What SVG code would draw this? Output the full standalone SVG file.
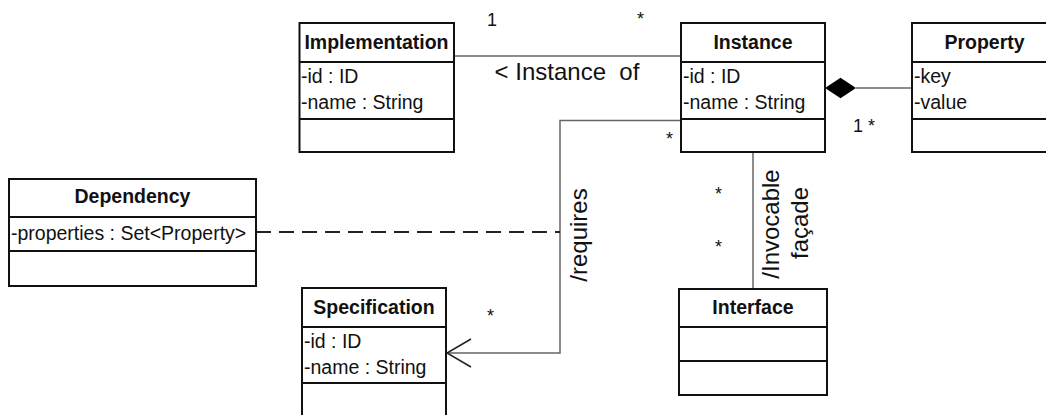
<svg xmlns="http://www.w3.org/2000/svg" width="1046" height="415" viewBox="0 0 1046 415">
<style>
.box{fill:#fff;stroke:#111;stroke-width:2}
.sep{stroke:#111;stroke-width:2}
.hdr{font-family:"Liberation Sans",Arial,sans-serif;font-weight:bold;font-size:19.5px;text-anchor:middle;fill:#111}
.att{font-family:"Liberation Sans",Arial,sans-serif;font-size:19.5px;fill:#111}
.lbl{font-family:"Liberation Sans",Arial,sans-serif;font-size:24px;fill:#111}
.mul{font-family:"Liberation Sans",Arial,sans-serif;font-size:18px;fill:#111}
.con{fill:none;stroke:#666;stroke-width:1.5}
</style>
<rect width="1046" height="415" fill="#fff"/>
<g id="connectors">
<line class="con" x1="454" y1="56" x2="681" y2="56"/>
<polyline class="con" points="856,88 912,88"/>
<polygon points="825,88 840.5,77.7 856,88 840.5,98.3" fill="#000"/>
<polyline class="con" points="681,120.5 560,120.5 560,353 446,353"/>
<polyline fill="none" stroke="#222" stroke-width="1.5" points="471,339 447,353 471,367"/>
<line x1="256" y1="232" x2="560" y2="232" stroke="#222" stroke-width="2" stroke-dasharray="15,8"/>
<line class="con" x1="753" y1="152" x2="753" y2="289"/>
<text class="mul" x="487" y="26">1</text>
<text class="mul" x="637" y="25">*</text>
<text class="lbl" x="567" y="80" text-anchor="middle" xml:space="preserve">&lt; Instance  of</text>
<text class="mul" x="853" y="132">1 *</text>
<text class="mul" x="666" y="145">*</text>
<text class="mul" x="487" y="322">*</text>
<text class="mul" x="715" y="200">*</text>
<text class="mul" x="715" y="253">*</text>
<text class="lbl" transform="translate(587,235) rotate(-90)" text-anchor="middle">/requires</text>
<text class="lbl" transform="translate(779,224) rotate(-90)" text-anchor="middle">/Invocable</text>
<text class="lbl" transform="translate(808,223) rotate(-90)" text-anchor="middle">façade</text>
</g>
<g id="implementation">
<rect class="box" x="299.5" y="23" width="154.5" height="129"/>
<line class="sep" x1="299.5" y1="62" x2="454" y2="62"/>
<line class="sep" x1="299.5" y1="119" x2="454" y2="119"/>
<text class="hdr" x="376.5" y="49">Implementation</text>
<text class="att" x="301" y="83">-id : ID</text>
<text class="att" x="301" y="109">-name : String</text>
</g>
<g id="instance">
<rect class="box" x="681" y="23" width="144" height="129"/>
<line class="sep" x1="681" y1="62" x2="825" y2="62"/>
<line class="sep" x1="681" y1="119" x2="825" y2="119"/>
<text class="hdr" x="753" y="49">Instance</text>
<text class="att" x="683" y="83">-id : ID</text>
<text class="att" x="683" y="109">-name : String</text>
</g>
<g id="property">
<rect class="box" x="912" y="23" width="145" height="129"/>
<line class="sep" x1="912" y1="62" x2="1057" y2="62"/>
<line class="sep" x1="912" y1="119" x2="1057" y2="119"/>
<text class="hdr" x="984.5" y="49">Property</text>
<text class="att" x="914" y="83">-key</text>
<text class="att" x="914" y="109">-value</text>
</g>
<g id="dependency">
<rect class="box" x="9" y="179" width="247" height="107"/>
<line class="sep" x1="9" y1="217" x2="256" y2="217"/>
<line class="sep" x1="9" y1="251" x2="256" y2="251"/>
<text class="hdr" x="132.5" y="203">Dependency</text>
<text class="att" x="11" y="240">-properties : Set&lt;Property&gt;</text>
</g>
<g id="specification">
<rect class="box" x="302" y="288" width="144" height="140"/>
<line class="sep" x1="302" y1="327" x2="446" y2="327"/>
<line class="sep" x1="302" y1="383" x2="446" y2="383"/>
<text class="hdr" x="374" y="314">Specification</text>
<text class="att" x="304" y="348">-id : ID</text>
<text class="att" x="304" y="374">-name : String</text>
</g>
<g id="interface">
<rect class="box" x="679" y="289" width="148" height="106"/>
<line class="sep" x1="679" y1="327" x2="827" y2="327"/>
<line class="sep" x1="679" y1="361" x2="827" y2="361"/>
<text class="hdr" x="753" y="314">Interface</text>
</g>
</svg>
